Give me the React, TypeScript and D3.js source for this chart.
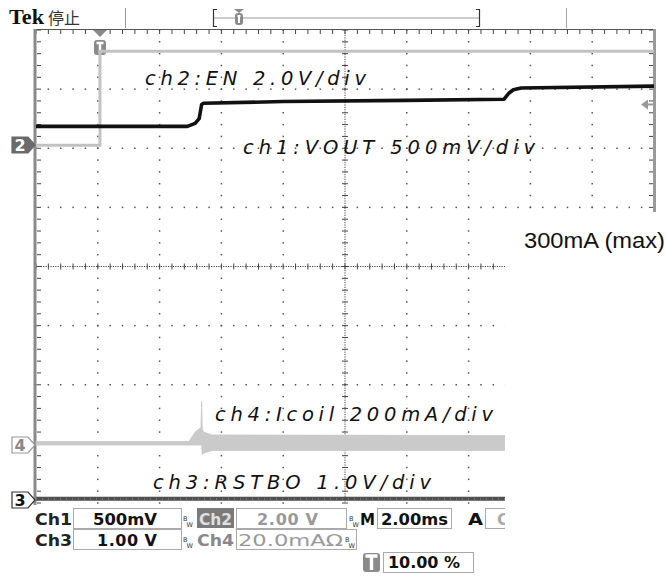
import React from "react"
import * as d3 from "d3"

const W = 666
const H = 577

// 10 horizontal divisions of 2 ms, 8 vertical divisions
const timeDomain = [0, 20]
const divDomain = [-4, 4]

// ch2: EN (light gray)
const ch2Time = [0, 2.07, 2.07, 20]
const ch2Div = [2.05, 2.05, 3.64, 3.64]

// ch1: VOUT (black)
const ch1Time = [0, 4.9, 5.15, 5.28, 5.36, 5.42, 8, 12, 15.15, 15.3, 15.45, 15.7, 20]
const ch1Div = [2.37, 2.37, 2.42, 2.5, 2.74, 2.76, 2.79, 2.81, 2.83, 2.93, 2.99, 3.02, 3.05]

// ch4: Icoil (light gray band, hi / lo envelope)
const ch4Time = [0, 4.95, 5.15, 5.34, 5.36, 5.38, 5.42, 5.7, 15.2]
const ch4Hi = [-2.96, -2.96, -2.8, -2.72, -2.28, -2.74, -2.8, -2.85, -2.86]
const ch4Lo = [-3.02, -3.02, -3.02, -3.02, -3.02, -3.18, -3.16, -3.11, -3.11]

// ch3: RSTBO (dark gray)
const ch3Time = [0, 15.2]
const ch3Div = [-3.93, -3.93]

const x = d3.scaleLinear().domain(timeDomain).range([36, 654])
const y = d3.scaleLinear().domain(divDomain).range([503, 30])

function tracePath(t: number[], v: number[]) {
  return d3
    .line<number>()
    .x((d) => x(d))
    .y((_, i) => y(v[i]))(t) as string
}

function bandPath(t: number[], hi: number[], lo: number[]) {
  return d3
    .area<number>()
    .x((d) => x(d))
    .y0((_, i) => y(lo[i]))
    .y1((_, i) => y(hi[i]))(t) as string
}

const minorT = d3.range(0, 20.001, 0.4)
const minorD = d3.range(-4, 4.001, 0.2)
const majorT = [2, 4, 6, 8, 12, 14, 16, 18]
const majorD = [-3, -2, -1, 1, 2, 3]

const labelFont = "'Liberation Sans', Arial, sans-serif"
const scopeFont = "'DejaVu Sans', sans-serif"

function BW({ px, py }: { px: number; py: number }) {
  return (
    <g fontFamily={scopeFont} fontWeight="normal" fontSize={6.5} fill="#333">
      <text x={px} y={py - 6}>B</text>
      <text x={px + 3.5} y={py}>W</text>
    </g>
  )
}

function Grid() {
  const dots: JSX.Element[] = []
  majorT.forEach((t) =>
    minorD.forEach((d, j) => dots.push(<rect key={`v${t}-${j}`} x={x(t) - 0.75} y={y(d) - 0.75} width={1.5} height={1.5} fill="#555" />))
  )
  majorD.forEach((d) =>
    minorT.forEach((t, j) => dots.push(<rect key={`h${d}-${j}`} x={x(t) - 0.75} y={y(d) - 0.75} width={1.5} height={1.5} fill="#555" />))
  )
  const cx = x(10)
  const cy = y(0)
  return (
    <g>
      {dots}
      <line x1={36} x2={654} y1={cy} y2={cy} stroke="#444" strokeWidth={1} strokeDasharray="1.2,1.2" />
      <line x1={cx} x2={cx} y1={30} y2={503} stroke="#444" strokeWidth={1} strokeDasharray="1.2,1.2" />
      {minorT.map((t, i) => (
        <line key={`ct${i}`} x1={x(t)} x2={x(t)} y1={cy - 3} y2={cy + 3} stroke="#444" />
      ))}
      {minorD.map((d, i) => (
        <line key={`cd${i}`} x1={cx - 3} x2={cx + 3} y1={y(d)} y2={y(d)} stroke="#444" />
      ))}
      {/* borders */}
      <line x1={35} x2={655} y1={29.5} y2={29.5} stroke="#555" strokeWidth={1.2} />
      {minorT.map((t, i) => (
        <line key={`tt${i}`} x1={x(t)} x2={x(t)} y1={30} y2={34} stroke="#444" />
      ))}
      <line x1={35} x2={35} y1={29} y2={505} stroke="#8a8a8a" strokeWidth={3} />
      {minorD.map((d, i) => (
        <line key={`lt${i}`} x1={37} x2={41} y1={y(d)} y2={y(d)} stroke="#444" />
      ))}
      <line x1={654.5} x2={654.5} y1={29} y2={212} stroke="#999" strokeWidth={3} />
      {minorD.map((d, i) => (
        <line key={`rt${i}`} x1={649} x2={653} y1={y(d)} y2={y(d)} stroke="#444" />
      ))}
    </g>
  )
}

function Marker({ cy, label, kind }: { cy: number; label: string; kind: "dark" | "gray" | "black" }) {
  const p = `M12,${cy - 8} H28 L35,${cy} L28,${cy + 8} H12 Z`
  const fill = kind === "dark" ? "#6a6a6a" : "#fff"
  const stroke = kind === "dark" ? "#6a6a6a" : kind === "gray" ? "#999" : "#333"
  const tc = kind === "dark" ? "#fff" : kind === "gray" ? "#888" : "#111"
  return (
    <g>
      <path d={p} fill={fill} stroke={stroke} strokeWidth={1.2} />
      <text x={20} y={cy + 6} textAnchor="middle" fontFamily={scopeFont} fontWeight="bold" fontSize={16} fill={tc}>
        {label}
      </text>
    </g>
  )
}

function TBox({ px, py, w, h }: { px: number; py: number; w: number; h: number }) {
  return (
    <g>
      <rect x={px} y={py} width={w} height={h} rx={3} fill="#8a8a8a" />
      <path
        d={`M${px + 2.5},${py + 3} H${px + w - 2.5} M${px + w / 2},${py + 3} V${py + h - 2}`}
        stroke="#fff"
        strokeWidth={Math.max(2, w / 5)}
      />
    </g>
  )
}

export default function App() {
  return (
    <svg width={W} height={H} style={{ position: "absolute", left: 0, top: 0, background: "#fff" }}>
      <rect width={W} height={H} fill="#fff" />

      {/* header */}
      <text x={9} y={24} fontFamily="'Liberation Serif', serif" fontWeight="bold" fontSize={21} textLength={35} lengthAdjust="spacingAndGlyphs" fill="#111">
        Tek
      </text>
      <text x={48} y={24} fontFamily="'Noto Sans CJK SC', sans-serif" fontSize={16} fill="#333">
        停止
      </text>
      <line x1={125.5} x2={125.5} y1={8} y2={28} stroke="#999" />
      <line x1={566.5} x2={566.5} y1={8} y2={28} stroke="#aaa" />
      <line x1={214} x2={479} y1={18} y2={18} stroke="#999" strokeWidth={1.2} />
      <path d="M217,9.5 H213.5 V26.5 H217" fill="none" stroke="#333" strokeWidth={1.2} />
      <path d="M476,9.5 H479.5 V26.5 H476" fill="none" stroke="#333" strokeWidth={1.2} />
      <path d="M234,9 H244 L239,13 Z" fill="#8a8a8a" />
      <TBox px={235} py={13} w={8} h={12} />

      <Grid />

      {/* trigger marker */}
      <path d={`M93,30 H107 L100,37 Z`} fill="#8a8a8a" />
      <TBox px={94} py={40} w={12} h={15} />

      {/* traces */}
      <path d={tracePath(ch2Time, ch2Div)} fill="none" stroke="#c2c2c2" strokeWidth={3} />
      <path d={bandPath(ch4Time, ch4Hi, ch4Lo)} fill="#cacaca" stroke="#c6c6c6" strokeWidth={0.8} />
      <path d={tracePath(ch3Time, ch3Div)} fill="none" stroke="#4f4f4f" strokeWidth={4} />
      <path d={tracePath(ch3Time, ch3Div)} fill="none" stroke="#9a9a9a" strokeWidth={1} strokeDasharray="1,5" />
      <path d={tracePath(ch1Time, ch1Div)} fill="none" stroke="#111" strokeWidth={3.6} strokeLinejoin="round" />

      {/* ch1 reference arrow */}
      <path d={`M641,${y(2.74)} L648,${y(2.74) - 5} V${y(2.74) + 5} Z`} fill="#999" />
      <line x1={646} x2={654} y1={y(2.74)} y2={y(2.74)} stroke="#999" strokeWidth={2} />

      {/* channel markers */}
      <Marker cy={145} label="2" kind="dark" />
      <Marker cy={445} label="4" kind="gray" />
      <Marker cy={500} label="3" kind="black" />

      {/* channel labels */}
      <g fontFamily="'DejaVu Sans', sans-serif" fontStyle="italic" fontSize={19.5} fill="#111">
        <text x={145} y={85} textLength={221} lengthAdjust="spacing">ch2:EN 2.0V/div</text>
        <text x={243} y={154} textLength={292} lengthAdjust="spacing">ch1:VOUT 500mV/div</text>
        <text x={215} y={421} textLength={278} lengthAdjust="spacing">ch4:Icoil 200mA/div</text>
        <text x={153} y={489} textLength={278} lengthAdjust="spacing">ch3:RSTBO 1.0V/div</text>
      </g>

      {/* readout rows */}
      <g fontFamily={scopeFont} fontWeight="bold" fontSize={16}>
        <text x={35} y={525} textLength={37} lengthAdjust="spacingAndGlyphs" fill="#222">Ch1</text>
        <rect x={73.5} y={508.5} width={108} height={20} fill="none" stroke="#aaa" />
        <text x={93} y={525} textLength={64} lengthAdjust="spacingAndGlyphs" fill="#111">500mV</text>
        <BW px={183} py={527} />
        <rect x={197} y={508} width={37} height={20} fill="#7a7a7a" />
        <text x={199} y={525} textLength={33} lengthAdjust="spacingAndGlyphs" fill="#e0e0e0">Ch2</text>
        <rect x={236.5} y={508.5} width={110} height={20} fill="none" stroke="#aaa" />
        <text x={257} y={525} textLength={61} lengthAdjust="spacing" fill="#999">2.00 V</text>
        <BW px={349} py={527} />
        <text x={360} y={525} textLength={15} lengthAdjust="spacingAndGlyphs" fill="#111">M</text>
        <rect x={377.5} y={508.5} width={74} height={20} fill="none" stroke="#aaa" />
        <text x={381} y={525} textLength={67} lengthAdjust="spacingAndGlyphs" fill="#111">2.00ms</text>
        <text x={468} y={525} textLength={15} lengthAdjust="spacingAndGlyphs" fill="#111">A</text>
        <rect x={485.5} y={508.5} width={60} height={20} fill="none" stroke="#aaa" />
        <text x={497} y={525} fill="#aaa">Ch2</text>

        <text x={35} y={546} textLength={37} lengthAdjust="spacingAndGlyphs" fill="#222">Ch3</text>
        <rect x={73.5} y={529.5} width={108} height={20} fill="none" stroke="#aaa" />
        <text x={97} y={546} textLength={60} lengthAdjust="spacing" fill="#111">1.00 V</text>
        <BW px={183} py={548} />
        <text x={197} y={546} textLength={37} lengthAdjust="spacingAndGlyphs" fill="#888">Ch4</text>
        <rect x={236.5} y={529.5} width={120} height={20} fill="none" stroke="#aaa" />
        <text x={238} y={546} textLength={105} lengthAdjust="spacingAndGlyphs" fill="#999" fontWeight="normal">20.0mAΩ</text>
        <BW px={345} py={548} />

        <TBox px={363} py={553} w={17} h={19} />
        <rect x={383.5} y={552.5} width={90} height={20} fill="none" stroke="#aaa" />
        <text x={388} y={568} textLength={72} lengthAdjust="spacing" fill="#111">10.00 %</text>
      </g>

      {/* cropped-out region */}
      <rect x={505} y={212} width={W - 505} height={H - 212} fill="#fff" />
      <rect x={656} y={0} width={W - 656} height={212} fill="#fff" />

      <text x={524} y={248} fontFamily={labelFont} fontSize={22.5} textLength={141} lengthAdjust="spacingAndGlyphs" fill="#111">
        300mA (max)
      </text>
    </svg>
  )
}
